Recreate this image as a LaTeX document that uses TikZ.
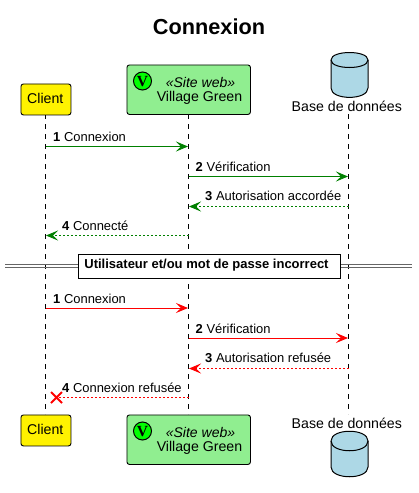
\documentclass[tikz,border=0pt]{standalone}
\usepackage{fontspec}
\setmainfont{Liberation Sans}
\usetikzlibrary{arrows.meta,shapes.geometric}
\newcommand{\txtsize}[1]{\fontsize{#1}{#1}\selectfont}
\newcommand{\msg}[2]{\textbf{#1} #2}
\definecolor{pgreen}{HTML}{90EE90}
\definecolor{dbblue}{HTML}{ADD8E6}
\definecolor{okgreen}{HTML}{008000}
\tikzset{
  x=1pt,y=-1pt,
  actorbox/.style={draw=black,line width=0.9pt,rounded corners=2.5pt,anchor=north west,inner sep=0pt},
  lifeline/.style={draw=black,line width=0.8pt,dash pattern=on 5pt off 5pt},
  plain text/.style={inner sep=0pt,font=\txtsize{14.15}},
  msglabel/.style={inner sep=0pt,anchor=base west,font=\txtsize{12.95}},
  tipfill/.style={-{Stealth[length=12pt,width=10pt,inset=5pt]}},
  okcall/.style={draw=okgreen,line width=0.9pt,tipfill},
  okret/.style={draw=okgreen,line width=0.8pt,dash pattern=on 2pt off 2pt,tipfill},
  badcall/.style={draw=red,line width=0.9pt,tipfill},
  badret/.style={draw=red,line width=0.8pt,dash pattern=on 2pt off 2pt,tipfill},
  dbshape/.style={draw=black,line width=1pt,fill=dbblue},
  badgeshape/.style={circle,draw=black,line width=1pt,fill=green,minimum size=18pt,inner sep=0pt},
  badgeletter/.style={inner sep=0pt,font=\fontspec{Liberation Serif}\txtsize{15.5}\bfseries},
}
\begin{document}
\begin{tikzpicture}
\useasboundingbox (0,0) rectangle (418,493);
\node[inner sep=0pt,font=\txtsize{21.7}\bfseries] (title) at (209,27) {Connexion};

% lifeline anchors
\coordinate (ct) at (45.5,114);
\coordinate (cb) at (45.5,414);
\coordinate (vt) at (188.5,114);
\coordinate (vb) at (188.5,414);
\coordinate (dt) at (348.5,114);
\coordinate (db) at (348.5,414);
\draw[lifeline] (ct) -- (cb);
\draw[lifeline] (vt) -- (vb);
\draw[lifeline] (dt) -- (db);

% top participants
\node[actorbox,fill=yellow,minimum width=50pt,minimum height=31pt] (clientT) at (20.5,83.5) {};
\node[plain text] (clientTl) at (45.3,98) {Client};
\node[actorbox,fill=pgreen,minimum width=123.5pt,minimum height=49.5pt] (villageT) at (126.5,64.5) {};
\node[badgeshape] (badgeT) at (142.5,81) {};
\node[badgeletter] (badgeTl) at (142.5,81.5) {V};
\node[plain text,font=\txtsize{14}\itshape] (siteT) at (200.5,82) {«Site web»};
\node[plain text] (vgT) at (199.5,98) {Village Green};
\draw[dbshape] (331,60) .. controls (331,50) and (368,50) .. (368,60) -- (368,88)
  .. controls (368,100.5) and (331,100.5) .. (331,88) -- cycle;
\draw[line width=1pt] (331,60) .. controls (331,70) and (368,70) .. (368,60);
\node[plain text] (dbT) at (346.8,106) {Base de données};

% bottom participants
\node[actorbox,fill=yellow,minimum width=50pt,minimum height=31pt] (clientB) at (20.5,414.5) {};
\node[plain text] (clientBl) at (45.3,429.5) {Client};
\node[actorbox,fill=pgreen,minimum width=123.5pt,minimum height=49.5pt] (villageB) at (126.5,414.5) {};
\node[badgeshape] (badgeB) at (142.5,431) {};
\node[badgeletter] (badgeBl) at (142.5,431.5) {V};
\node[plain text,font=\txtsize{14}\itshape] (siteB) at (200.5,432) {«Site web»};
\node[plain text] (vgB) at (199.5,448) {Village Green};
\node[plain text] (dbB) at (346.8,423) {Base de données};
\draw[dbshape] (331,441) .. controls (331,428) and (368,428) .. (368,441) -- (368,467)
  .. controls (368,480) and (331,480) .. (331,467) -- cycle;
\draw[line width=1pt] (331,441) .. controls (331,454) and (368,454) .. (368,441);

% message end points
\coordinate (c1) at (45.5,146.5);  \coordinate (v1) at (188,146.5);
\coordinate (v2) at (188.5,176.5); \coordinate (d2) at (348,176.5);
\coordinate (d3) at (348.5,206.5); \coordinate (v3) at (189,206.5);
\coordinate (v4) at (188.5,235.5); \coordinate (c4) at (46,235.5);
\coordinate (c5) at (45.5,308);    \coordinate (v5) at (188,308);
\coordinate (v6) at (188.5,338);   \coordinate (d6) at (348,338);
\coordinate (d7) at (348.5,368.5); \coordinate (v7) at (189,368.5);
\coordinate (v8) at (188.5,397.5); \coordinate (x8) at (56.5,397.5);

\draw[okcall] (c1) -- (v1);
\draw[okcall] (v2) -- (d2);
\draw[okret] (d3) -- (v3);
\draw[okret] (v4) -- (c4);
\draw[badcall] (c5) -- (v5);
\draw[badcall] (v6) -- (d6);
\draw[badret] (d7) -- (v7);
\draw[draw=red,line width=0.8pt,dash pattern=on 2pt off 2pt] (v8) -- (x8);
\draw[red,line width=2pt] (51,392) -- (62,403) (51,403) -- (62,392);

\node[msglabel] (m1) at (53,141) {\msg{1}{Connexion}};
\node[msglabel] (m2) at (195.5,171) {\msg{2}{Vérification}};
\node[msglabel] (m3) at (205,200.5) {\msg{3}{Autorisation accordée}};
\node[msglabel] (m4) at (62,230.5) {\msg{4}{Connecté}};
\node[msglabel] (m5) at (53,303) {\msg{1}{Connexion}};
\node[msglabel] (m6) at (195.5,333) {\msg{2}{Vérification}};
\node[msglabel] (m7) at (205,362.5) {\msg{3}{Autorisation refusée}};
\node[msglabel] (m8) at (62,392.5) {\msg{4}{Connexion refusée}};

% separator
\coordinate (sl) at (5,266);
\coordinate (sr) at (412,266);
\draw[draw=black!60,line width=0.8pt] ([yshift=-1.5pt]sl) -- ([yshift=-1.5pt]sr);
\draw[draw=black!60,line width=0.8pt] ([yshift=1.5pt]sl) -- ([yshift=1.5pt]sr);
\node[draw=black,line width=0.9pt,fill=white,anchor=north west,minimum width=262pt,minimum height=24pt,inner sep=0pt] (sepbox) at (77.5,253.5) {};
\node[inner sep=0pt,font=\txtsize{13}\bfseries] (sept) at (206.5,265.5) {Utilisateur et/ou mot de passe incorrect};
\end{tikzpicture}
\end{document}
